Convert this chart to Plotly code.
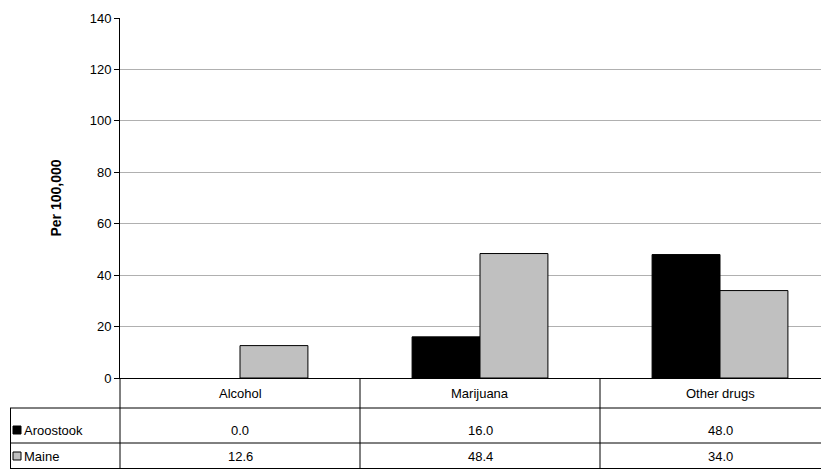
import plotly.graph_objects as go

categories = ["Alcohol", "Marijuana", "Other drugs"]
aroostook = [0.0, 16.0, 48.0]
maine = [12.6, 48.4, 34.0]
y_ticks = [0, 20, 40, 60, 80, 100, 120, 140]

W, H = 821, 469
L, T, B = 120, 18, 378
PW = W - L
CW = 240.0

def px(x):
    return (x - L) / PW
def py(y):
    return (B - y) / (B - T)

xs = list(range(len(categories)))
fig = go.Figure()
fig.add_bar(x=xs, y=aroostook, name="Aroostook",
            marker=dict(color="black", line=dict(color="black", width=[0 if v == 0 else 1 for v in aroostook])),
            offset=-0.283, width=0.283)
fig.add_bar(x=xs, y=maine, name="Maine", marker=dict(color="#C0C0C0", line=dict(color="black", width=1)), offset=0, width=0.283)

shapes = []
line = dict(color="black", width=1)
for yy in [408, 443, 468.5]:
    shapes.append(dict(type="line", xref="paper", yref="paper", x0=px(10), x1=1.0, y0=py(yy), y1=py(yy), line=line))
for i in range(len(categories)):
    xx = L + CW * i
    shapes.append(dict(type="line", xref="paper", yref="paper", x0=px(xx), x1=px(xx), y0=py(378), y1=py(469), line=line))
shapes.append(dict(type="line", xref="paper", yref="paper", x0=px(10.5), x1=px(10.5), y0=py(408), y1=py(469), line=line))
for yc, col in [(430, "black"), (456, "#C0C0C0")]:
    shapes.append(dict(type="rect", xref="paper", yref="paper", x0=px(13), x1=px(21), y0=py(yc + 4), y1=py(yc - 4), fillcolor=col, line=line))

ann = []
f = dict(family="Arial, Liberation Sans", size=13, color="black")
def a(x, y, text, xanchor="center"):
    ann.append(dict(xref="paper", yref="paper", x=px(x), y=py(y), text=text, showarrow=False, font=f,
                    xanchor=xanchor, yanchor="middle"))
for i, c in enumerate(categories):
    xc = L + CW * i + CW / 2
    a(xc, 393, c)
    a(xc, 430, f"{aroostook[i]:.1f}")
    a(xc, 456, f"{maine[i]:.1f}")
for yc, name in [(430, "Aroostook"), (456, "Maine")]:
    a(22, yc, name, "left")

fig.update_layout(
    width=W, height=H, margin=dict(l=L, r=0, t=T, b=H - B, autoexpand=False),
    paper_bgcolor="white", plot_bgcolor="white", showlegend=False,
    font=f, shapes=shapes, annotations=ann,
    xaxis=dict(range=[-0.5, -0.5 + PW / CW], showticklabels=False, showgrid=False, zeroline=False,
               showline=True, linecolor="black", linewidth=1, ticks="", automargin=False),
    yaxis=dict(range=[0, 140], tickvals=y_ticks, showgrid=True, gridcolor="#B0B0B0", gridwidth=1, zeroline=False,
               showline=True, linecolor="black", linewidth=1, ticks="outside", ticklen=5, tickcolor="black",
               automargin=False,
               title=dict(text="<b>Per 100,000</b>", font=dict(family="Arial, Liberation Sans", size=14), standoff=24),
               tickfont=dict(family="Arial, Liberation Sans", size=13)),
)
fig.write_html("out.html", config={"displayModeBar": False},
               post_script="document.body.style.margin='0';document.body.style.overflow='hidden';")
